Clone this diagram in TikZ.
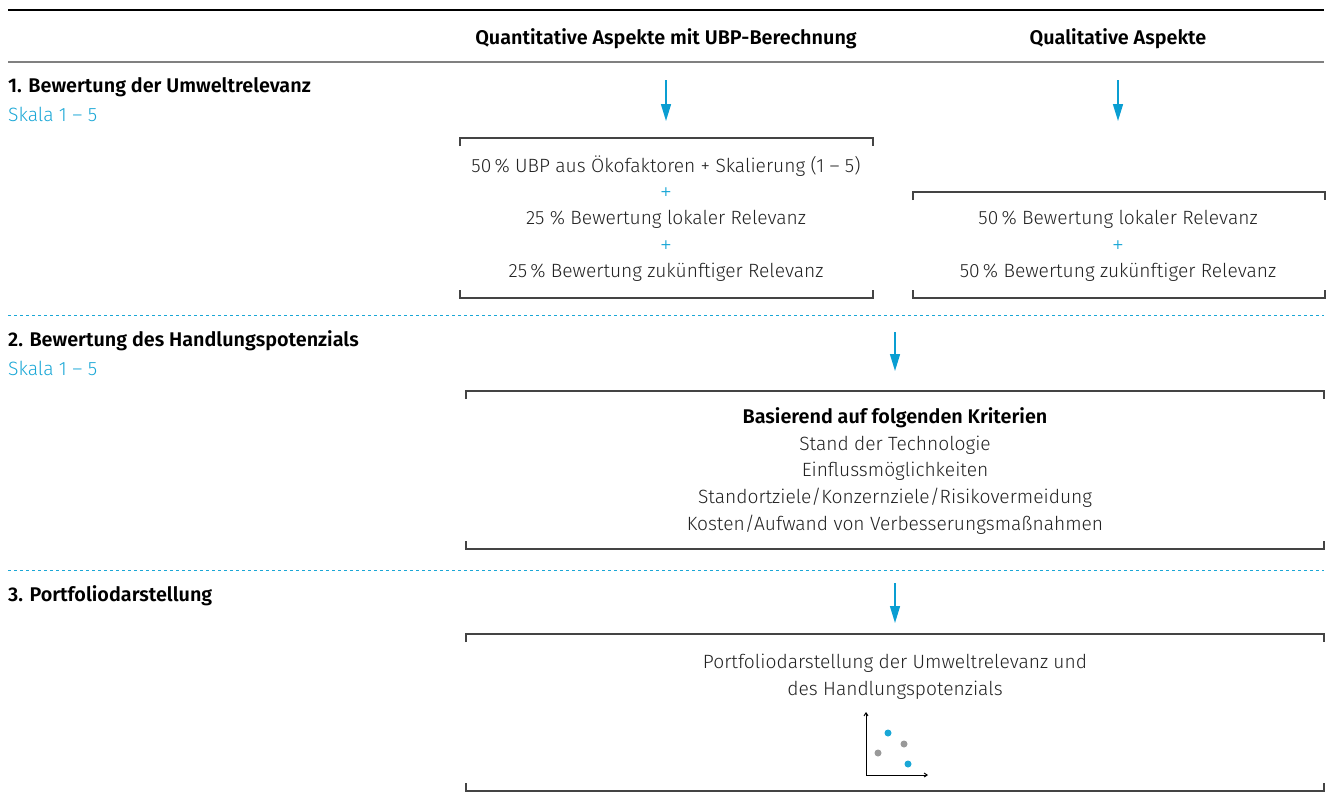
\documentclass[tikz,border=0pt]{standalone}
\usepackage{fontspec}
\setmainfont{Fira Sans}[UprightFont=* Light, BoldFont=* SemiBold]
\newfontfamily\plusfont{DejaVu Sans}
\usetikzlibrary{arrows.meta}
\definecolor{cy}{HTML}{1AA7D6}
\definecolor{cyarr}{HTML}{0A9ED2}
\definecolor{txt}{HTML}{222222}
\definecolor{ln}{HTML}{444444}
\definecolor{dotgray}{HTML}{999999}
\tikzset{
  x=1pt,y=-1pt,
  body/.style={font=\fontsize{19.2}{22}\selectfont,text=txt,inner sep=0pt,anchor=center},
  bold/.style={font=\fontsize{19.8}{22}\selectfont\bfseries,text=black,inner sep=0pt},
  scale15/.style={font=\fontsize{19.3}{22}\selectfont,text=cy,inner sep=0pt,anchor=west},
  plus/.style={font=\fontsize{14}{16}\selectfont\plusfont,text=cy,inner sep=0pt},
  flow/.style={draw=cyarr,line width=1.5pt,-{Triangle[width=10pt,length=17pt]}},
  bracket/.style={draw=ln,line width=1.2pt},
  sep/.style={draw=cy,line width=1pt,dash pattern=on 3pt off 3pt},
}
\begin{document}
\begin{tikzpicture}
\useasboundingbox (0,0) rectangle (1326,798);
% header rules
\draw[line width=2pt,black] (8,10) -- (1324,10);
\draw[line width=1.6pt,gray] (8,62) -- (1324,62);
\node[bold] (hq) at (666,39) {Quantitative Aspekte mit UBP-Berechnung};
\node[bold] (hl) at (1118,39) {Qualitative Aspekte};
% section 1
\node[bold,anchor=west] (s1) at (8,87) {1. Bewertung der Umweltrelevanz};
\node[scale15] (s1s) at (8,114) {Skala 1 – 5};
\coordinate (a1s) at (666,80); \coordinate (a1e) at (666,121);
\draw[flow] (a1s) -- (a1e);
\coordinate (a2s) at (1118,80); \coordinate (a2e) at (1118,121);
\draw[flow] (a2s) -- (a2e);
% box 1
\draw[bracket] (460,146) -- (460,138) -- (873,138) -- (873,146);
\draw[bracket] (460,290) -- (460,298) -- (873,298) -- (873,290);
\node[body] (b1a) at (666,166) {50\,\% UBP aus Ökofaktoren + Skalierung (1 – 5)};
\node[plus] (b1p1) at (666,192) {+};
\node[body] (b1b) at (666,219) {25 \% Bewertung lokaler Relevanz};
\node[plus] (b1p2) at (666,245) {+};
\node[body] (b1c) at (666,272) {25\,\% Bewertung zukünftiger Relevanz};
% box 2
\draw[bracket] (913,200) -- (913,192) -- (1325,192) -- (1325,200);
\draw[bracket] (913,290) -- (913,298) -- (1325,298) -- (1325,290);
\node[body] (b2a) at (1118,219) {50\,\% Bewertung lokaler Relevanz};
\node[plus] (b2p) at (1118,245) {+};
\node[body] (b2b) at (1118,272) {50\,\% Bewertung zukünftiger Relevanz};
% separator
\draw[sep] (8,315) -- (1324,315);
% section 2
\node[bold,anchor=west] (s2) at (8,341) {2. Bewertung des Handlungspotenzials};
\node[scale15] (s2s) at (8,368) {Skala 1 – 5};
\coordinate (a3s) at (895,332); \coordinate (a3e) at (895,371);
\draw[flow] (a3s) -- (a3e);
\draw[bracket] (466,399) -- (466,391) -- (1324,391) -- (1324,399);
\draw[bracket] (466,541) -- (466,549) -- (1324,549) -- (1324,541);
\node[bold] (k0) at (895,418) {Basierend auf folgenden Kriterien};
\node[body] (k1) at (895,445) {Stand der Technologie};
\node[body] (k2) at (895,471) {Einflussmöglichkeiten};
\node[body] (k3) at (895,498) {Standortziele/Konzernziele/Risikovermeidung};
\node[body] (k4) at (895,525) {Kosten/Aufwand von Verbesserungsmaßnahmen};
% separator
\draw[sep] (8,570) -- (1324,570);
% section 3
\node[bold,anchor=west] (s3) at (8,596) {3. Portfoliodarstellung};
\coordinate (a4s) at (895,583); \coordinate (a4e) at (895,623);
\draw[flow] (a4s) -- (a4e);
\draw[bracket] (466,642) -- (466,634) -- (1324,634) -- (1324,642);
\draw[bracket] (466,783) -- (466,791) -- (1324,791) -- (1324,783);
\node[body] (p1) at (895,663) {Portfoliodarstellung der Umweltrelevanz und};
\node[body] (p2) at (895,690) {des Handlungspotenzials};
% mini chart
\coordinate (o) at (866,775);
\coordinate (yt) at (866,712);
\coordinate (xt) at (928,775);
\draw[line width=1pt,black,-{Straight Barb[length=3pt,width=4pt]}] (o) -- (yt);
\draw[line width=1pt,black,-{Straight Barb[length=3pt,width=4pt]}] (o) -- (xt);
\fill[cy] (888,733) circle (3.5);
\fill[dotgray] (878,753) circle (3.5);
\fill[dotgray] (904,744) circle (3.5);
\fill[cy] (908,764) circle (3.5);
\end{tikzpicture}
\end{document}
